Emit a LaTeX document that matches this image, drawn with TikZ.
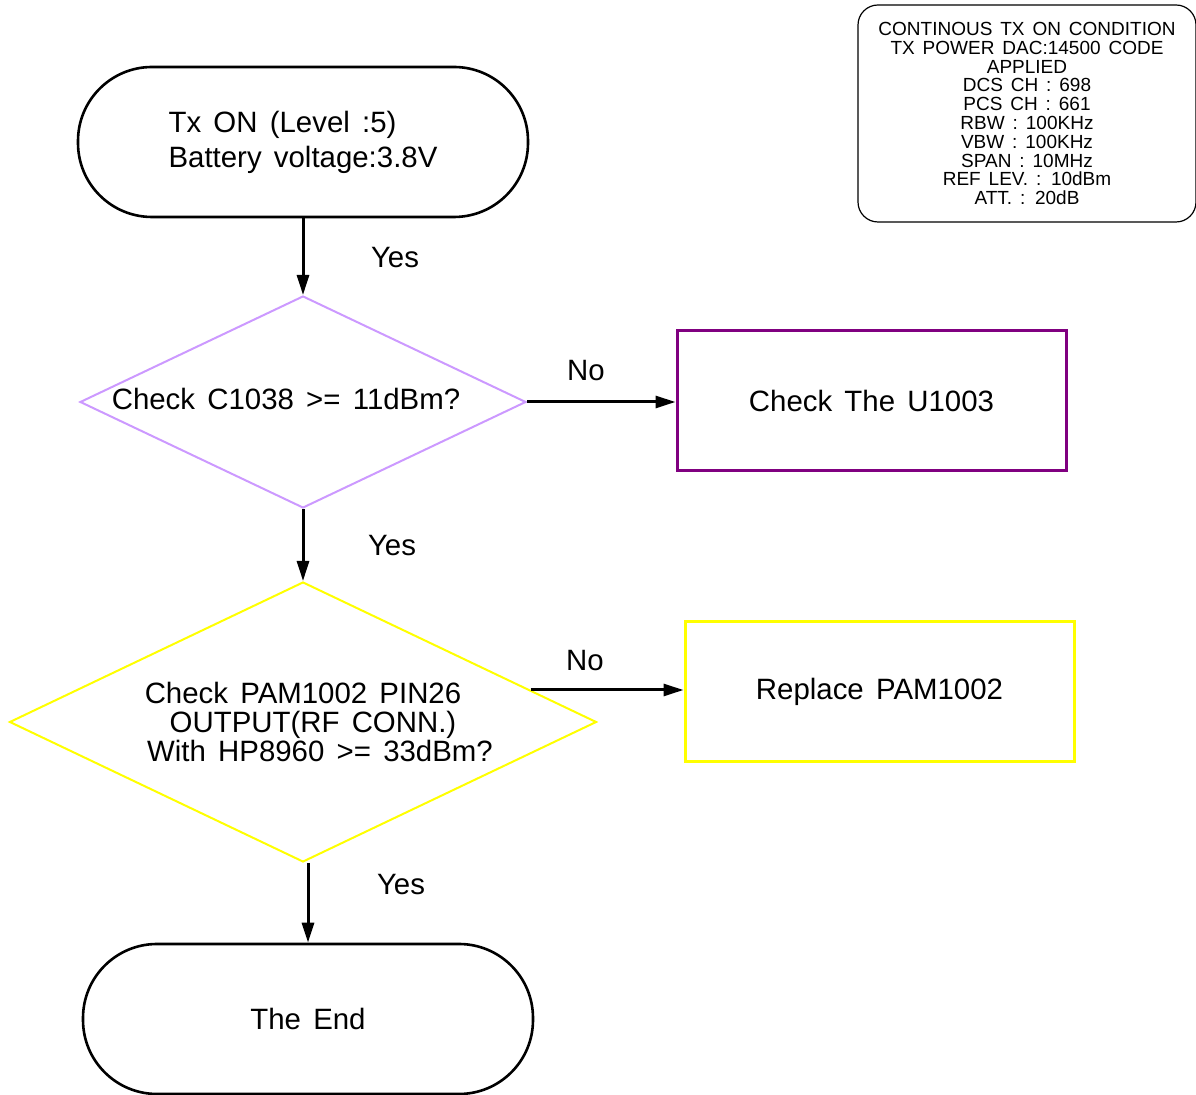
\documentclass[tikz,border=0pt]{standalone}
\usepackage{fontspec}
\setmainfont{Liberation Sans}[WordSpace=1.5]
\usetikzlibrary{positioning,arrows.meta,shapes.geometric}
\definecolor{lilac}{HTML}{CC99FF}
\definecolor{plum}{HTML}{800080}
\definecolor{lemon}{HTML}{FFFF00}
\tikzset{
  term/.style={rectangle,rounded corners=37pt,draw=black,line width=1.3pt,
    minimum width=225pt,minimum height=75pt,align=left,
    font=\fontsize{14.7pt}{17.5pt}\selectfont},
  dec/.style={diamond,aspect=2.1,inner sep=0pt,line width=1pt,align=center,
    font=\fontsize{14.7pt}{14.5pt}\selectfont},
  act/.style={rectangle,line width=1.5pt,minimum width=194.5pt,
    minimum height=70pt,align=center,font=\fontsize{14.7pt}{17pt}\selectfont},
  note/.style={rectangle,rounded corners=10pt,draw=black,line width=0.6pt,
    minimum width=169pt,minimum height=108.5pt,align=center,
    font=\fontsize{9.5pt}{9.4pt}\selectfont},
  lab/.style={font=\fontsize{14.7pt}{17pt}\selectfont},
  arr/.style={-{Triangle[length=10pt,width=6pt]},line width=1.5pt,draw=black},
}
\begin{document}
\begin{tikzpicture}[x=0.5pt,y=-0.5pt]
  \useasboundingbox (0,0) rectangle (1196,1095);
  \node[note] (cond) at (1027,113.5) {CONTINOUS TX ON CONDITION\\TX POWER DAC:14500 CODE\\APPLIED\\DCS CH : 698\\PCS CH : 661\\RBW : 100KHz\\VBW : 100KHz\\SPAN : 10MHz\\REF LEV. : 10dBm\\ATT. : 20dB};
  \node[term] (txon) at (303,142) {Tx ON (Level :5)\\Battery voltage:3.8V};
  \node[dec,draw=lilac,minimum width=223pt,minimum height=106pt] (chkc) at (303,402) {};
  \node[lab] (chkctxt) at (286,399) {Check C1038 >= 11dBm?};
  \node[act,draw=plum] (u1003) at (871.5,401) {Check The U1003};
  \node[dec,draw=lemon,minimum width=293.5pt,minimum height=140pt] (chkpam) at (303,722) {Check PAM1002 PIN26\\\hspace*{10pt}OUTPUT(RF CONN.)\\\hspace*{17pt}With HP8960 >= 33dBm?};
  \node[act,draw=lemon] (pam) at (879.5,691.5) {Replace PAM1002};
  \node[term,align=center] (theend) at (308,1019) {The End};
  % connectors
  \draw[arr] (txon) -- (chkc);
  \draw[arr] (chkc.east) -- (chkc.east -| u1003.west);
  \draw[arr] (chkc) -- (chkpam);
  \draw[arr] (chkpam.8) -- (chkpam.8 -| pam.west);
  \draw[arr] (chkpam.south -| theend.north) -- (theend.north);
  % labels
  \node[lab] (y1) at (395,258) {Yes};
  \node[lab] (y2) at (392,546) {Yes};
  \node[lab] (y3) at (401,885) {Yes};
  \node[lab] (n1) at (586,371) {No};
  \node[lab] (n2) at (585,661) {No};
\end{tikzpicture}
\end{document}
